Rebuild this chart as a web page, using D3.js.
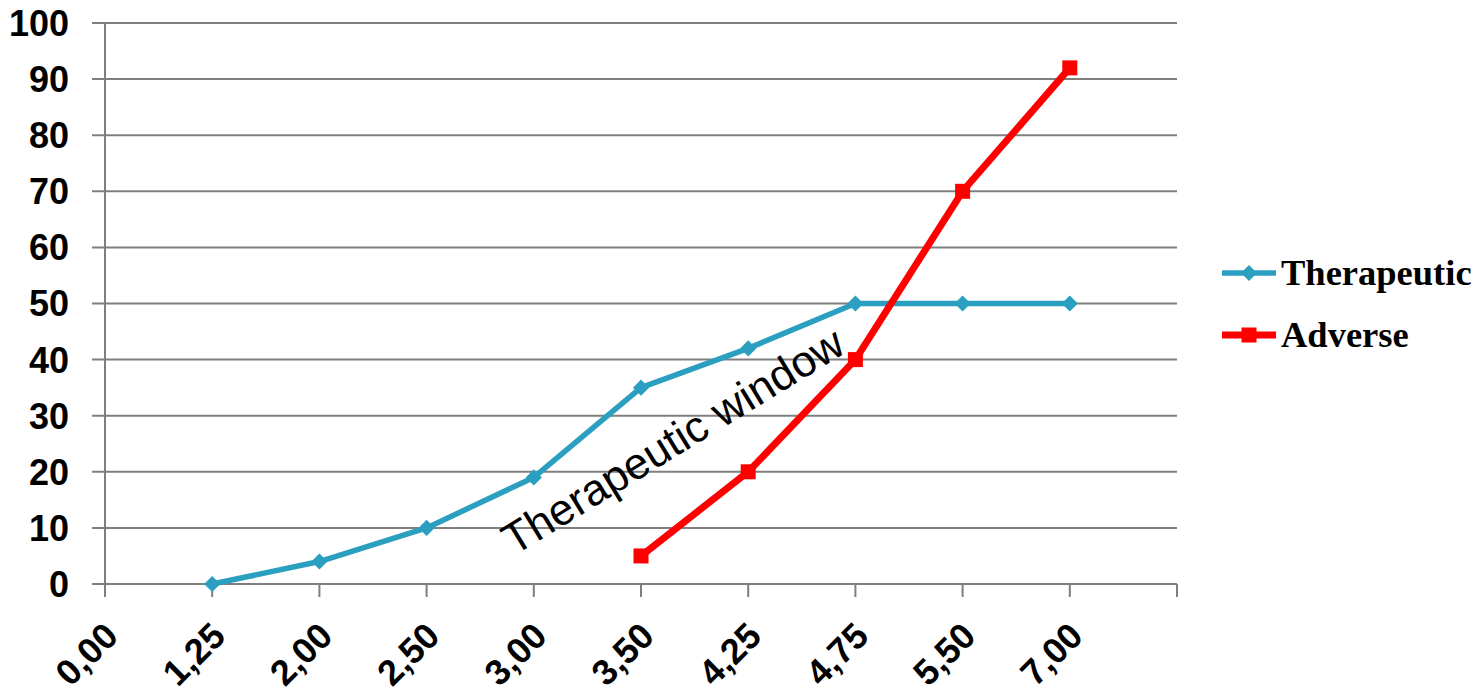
<!DOCTYPE html>
<html><head><meta charset="utf-8">
<script src="https://cdn.jsdelivr.net/npm/d3@7"></script>
<style>body{margin:0;background:#fff}svg{display:block}</style>
</head><body>
<script>
const categories = ["0,00","1,25","2,00","2,50","3,00","3,50","4,25","4,75","5,50","7,00"];
const therapeutic = [null,0,4,10,19,35,42,50,50,50];
const adverse = [null,null,null,null,null,5,20,40,70,92];
const yTicks = [0,10,20,30,40,50,60,70,80,90,100];
const seriesNames = ["Therapeutic","Adverse"];

const W=1472,H=700;
const svg=d3.select("body").append("svg").attr("width",W).attr("height",H);
const x=d3.scaleBand().domain(categories).range([105,1177]).paddingInner(0).paddingOuter(0);
const y=d3.scaleLinear().domain([0,100]).range([584,23]);

// gridlines
svg.append("g").selectAll("line").data(yTicks).join("line")
  .attr("x1",92).attr("x2",1177).attr("y1",d=>y(d)).attr("y2",d=>y(d))
  .attr("stroke","#7f7f7f").attr("stroke-width",2);
// y axis line
svg.append("line").attr("x1",105).attr("x2",105).attr("y1",y(100)).attr("y2",597)
  .attr("stroke","#7f7f7f").attr("stroke-width",2);
// x ticks
const tickPos = categories.map(c=>x(c)).concat([x.range()[1]]);
svg.append("g").selectAll("line").data(tickPos).join("line")
  .attr("x1",d=>d).attr("x2",d=>d).attr("y1",y(0)).attr("y2",597)
  .attr("stroke","#7f7f7f").attr("stroke-width",2);
// y labels
svg.append("g").selectAll("text").data(yTicks).join("text")
  .attr("x",69).attr("y",d=>y(d)).attr("dy","0.36em").attr("text-anchor","end")
  .attr("font-family","Liberation Sans, Arial, sans-serif").attr("font-weight","bold")
  .attr("font-size",36).attr("fill","#000").text(d=>d);
// x labels
svg.append("g").selectAll("text").data(categories).join("text")
  .attr("transform",c=>`translate(${x(c)+6},${629}) rotate(-45)`)
  .attr("dy","0.36em").attr("text-anchor","end")
  .attr("font-family","Liberation Sans, Arial, sans-serif").attr("font-weight","bold")
  .attr("font-size",36).attr("fill","#000").text(c=>c);

const line=d3.line().defined(d=>d.v!=null).x(d=>x(d.c)).y(d=>y(d.v));
const tData=categories.map((c,i)=>({c,v:therapeutic[i]}));
const aData=categories.map((c,i)=>({c,v:adverse[i]}));
const teal="#2a9fc0", red="#ff0000";
svg.append("path").datum(tData).attr("d",line).attr("fill","none").attr("stroke",teal).attr("stroke-width",5.5).attr("stroke-linejoin","round");
svg.append("path").datum(aData).attr("d",line).attr("fill","none").attr("stroke",red).attr("stroke-width",7).attr("stroke-linejoin","round");
svg.append("g").selectAll("path").data(tData.filter(d=>d.v!=null)).join("path")
  .attr("transform",d=>`translate(${x(d.c)},${y(d.v)}) rotate(45)`)
  .attr("d",d3.symbol().type(d3.symbolSquare).size(130)).attr("fill",teal);
svg.append("g").selectAll("rect").data(aData.filter(d=>d.v!=null)).join("rect")
  .attr("x",d=>x(d.c)-7.5).attr("y",d=>y(d.v)-7.5).attr("width",15).attr("height",15).attr("fill",red);

// annotation
svg.append("text").attr("transform","translate(514,556) rotate(-31.5)")
  .attr("font-family","Liberation Sans, Arial, sans-serif").attr("font-size",44).attr("fill","#000")
  .text("Therapeutic window");

// legend
const legY=[273,335], cols=[teal,red];
seriesNames.forEach((n,i)=>{
  const g=svg.append("g");
  g.append("line").attr("x1",1222).attr("x2",1276).attr("y1",legY[i]).attr("y2",legY[i]).attr("stroke",cols[i]).attr("stroke-width",i?7:5.5);
  if(i==0) g.append("path").attr("transform",`translate(1249,${legY[i]}) rotate(45)`).attr("d",d3.symbol().type(d3.symbolSquare).size(130)).attr("fill",teal);
  else g.append("rect").attr("x",1241.5).attr("y",legY[i]-7.5).attr("width",15).attr("height",15).attr("fill",red);
  g.append("text").attr("x",1281).attr("y",legY[i]).attr("dy","0.33em")
   .attr("font-family","Liberation Serif, Times New Roman, serif").attr("font-weight","bold").attr("font-size",36.5).attr("fill","#000").text(n);
});
</script>
</body></html>
